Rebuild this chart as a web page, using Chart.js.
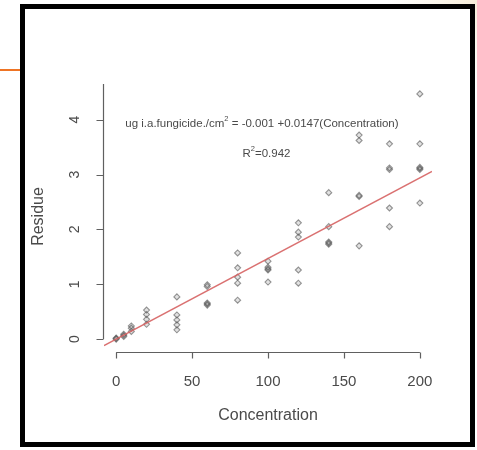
<!DOCTYPE html>
<html>
<head>
<meta charset="utf-8">
<script src="https://cdn.jsdelivr.net/npm/chart.js@4/dist/chart.umd.min.js"></script>
<style>
  html, body { margin: 0; padding: 0; }
  body {
    width: 477px; height: 450px; position: relative; overflow: hidden;
    background: radial-gradient(circle at 477px 0px, #f6ecd8 0px, #fbf6ec 40px, #ffffff 90px);
  }
  #wrap { position: absolute; left: 0; top: 0; width: 477px; height: 450px; }
  #frame {
    position: absolute; left: 20px; top: 4px; width: 455px; height: 443px;
    box-sizing: border-box; border: 5px solid #000; pointer-events: none;
  }
  #panel { position: absolute; left: 25px; top: 9px; width: 445px; height: 433px; background: #fff; }
  #accent { position: absolute; left: 0; top: 69px; width: 20px; height: 2px; background: #ee7424; }
</style>
</head>
<body>
<div id="panel"></div>
<div id="wrap"><canvas id="chart" width="477" height="450"></canvas></div>
<div id="frame"></div>
<div id="accent"></div>
<script>
// Residue measured at each fungicide concentration (paired arrays)
const concentration = [
  0, 0, 0,
  5, 5, 5,
  10, 10, 10,
  20, 20, 20, 20,
  40, 40, 40, 40, 40,
  60, 60, 60, 60, 60,
  80, 80, 80, 80, 80,
  100, 100, 100, 100, 100,
  120, 120, 120, 120, 120,
  140, 140, 140, 140, 140,
  160, 160, 160, 160, 160,
  180, 180, 180, 180, 180,
  200, 200, 200, 200, 200, 200
];
const residue = [
  0.00, 0.01, 0.02,
  0.05, 0.07, 0.09,
  0.14, 0.20, 0.24,
  0.53, 0.45, 0.36, 0.27,
  0.77, 0.44, 0.35, 0.26, 0.17,
  0.99, 0.96, 0.66, 0.64, 0.62,
  1.57, 1.30, 1.13, 1.02, 0.71,
  1.42, 1.31, 1.28, 1.26, 1.04,
  2.12, 1.95, 1.86, 1.26, 1.02,
  2.67, 2.05, 1.77, 1.75, 1.73,
  3.72, 3.62, 2.62, 2.60, 1.70,
  3.56, 3.12, 3.09, 2.39, 2.05,
  4.47, 3.56, 3.13, 3.11, 3.09, 2.48
];

// Fitted regression line
const intercept = -0.001;
const slope = 0.0147;
const rSquared = 0.942;
const fitRange = [-8, 208];

// Axis ticks
const xTicks = [0, 50, 100, 150, 200];
const yTicks = [0, 1, 2, 3, 4];

const points = concentration.map((c, i) => ({ x: c, y: residue[i] }));
const fitLine = fitRange.map(c => ({ x: c, y: intercept + slope * c }));

const textColor = '#4a4a4a';
const axisColor = '#606060';

// R-style axes: lines spanning the tick range, outward tick marks, rotated y labels, fit annotation
const rAxes = {
  id: 'rAxes',
  afterDraw(chart) {
    const { ctx } = chart;
    const xs = chart.scales.x, ys = chart.scales.y;
    ctx.save();
    ctx.strokeStyle = axisColor;
    ctx.lineWidth = 1.2;

    // x axis
    const xAxisY = 352.5;
    ctx.beginPath();
    ctx.moveTo(xs.getPixelForValue(xTicks[0]), xAxisY);
    ctx.lineTo(xs.getPixelForValue(xTicks[xTicks.length - 1]), xAxisY);
    xTicks.forEach(v => {
      const px = Math.round(xs.getPixelForValue(v)) + 0.5;
      ctx.moveTo(px, xAxisY);
      ctx.lineTo(px, xAxisY + 6);
    });
    ctx.stroke();

    // y axis
    const yAxisX = 103.5;
    ctx.beginPath();
    ctx.moveTo(yAxisX, chart.chartArea.top);
    ctx.lineTo(yAxisX, ys.getPixelForValue(yTicks[0]));
    yTicks.forEach(v => {
      const py = Math.round(ys.getPixelForValue(v)) + 0.5;
      ctx.moveTo(yAxisX, py);
      ctx.lineTo(yAxisX - 7, py);
    });
    ctx.stroke();

    // y tick labels, reading bottom to top
    ctx.fillStyle = textColor;
    ctx.font = '14px "Liberation Sans", Arial, sans-serif';
    ctx.textAlign = 'center';
    ctx.textBaseline = 'middle';
    yTicks.forEach(v => {
      ctx.save();
      ctx.translate(75, ys.getPixelForValue(v));
      ctx.rotate(-Math.PI / 2);
      ctx.fillText(String(v), 0, 0);
      ctx.restore();
    });

    // fit equation and R squared
    const cx = xs.getPixelForValue(96);
    const eqY = ys.getPixelForValue(3.92);
    const r2Y = ys.getPixelForValue(3.38);
    const base = '11.5px "Liberation Sans", Arial, sans-serif';
    const sup = '7.5px "Liberation Sans", Arial, sans-serif';
    const left1 = 'ug i.a.fungicide./cm';
    const right1 = ' = ' + intercept.toFixed(3) + ' +' + slope.toFixed(4) + '(Concentration)';
    ctx.textAlign = 'left';
    ctx.textBaseline = 'middle';
    ctx.font = base; const wL = ctx.measureText(left1).width, wR = ctx.measureText(right1).width;
    ctx.font = sup; const wS = ctx.measureText('2').width;
    let x0 = cx - (wL + wS + wR) / 2;
    ctx.font = base; ctx.fillText(left1, x0, eqY);
    ctx.font = sup; ctx.fillText('2', x0 + wL, eqY - 5);
    ctx.font = base; ctx.fillText(right1, x0 + wL + wS, eqY);

    const r2a = 'R', r2b = '=' + rSquared.toFixed(3);
    ctx.font = base; const wa = ctx.measureText(r2a).width, wb = ctx.measureText(r2b).width;
    ctx.font = sup; const ws = ctx.measureText('2').width;
    x0 = xs.getPixelForValue(99) - (wa + ws + wb) / 2;
    ctx.font = base; ctx.fillText(r2a, x0, r2Y);
    ctx.font = sup; ctx.fillText('2', x0 + wa, r2Y - 5);
    ctx.font = base; ctx.fillText(r2b, x0 + wa + ws, r2Y);
    ctx.restore();
  }
};

new Chart(document.getElementById('chart'), {
  type: 'scatter',
  data: {
    datasets: [
      {
        type: 'line',
        data: fitLine,
        borderColor: 'rgba(214, 98, 98, 0.9)',
        borderWidth: 1.4,
        pointRadius: 0,
        fill: false,
        order: 0
      },
      {
        data: points,
        pointStyle: 'rectRot',
        pointRadius: 3,
        borderColor: 'rgba(95, 95, 95, 0.65)',
        backgroundColor: 'rgba(50, 50, 50, 0.14)',
        borderWidth: 1.1,
        order: 1
      }
    ]
  },
  options: {
    responsive: false,
    animation: false,
    events: [],
    layout: { padding: { left: 0, top: 84, right: 45, bottom: 0 } },
    plugins: { legend: { display: false }, tooltip: { enabled: false } },
    scales: {
      x: {
        type: 'linear',
        min: -8, max: 208,
        afterFit: s => { s.height = 101; },
        afterBuildTicks: s => { s.ticks = xTicks.map(v => ({ value: v })); },
        grid: { display: false, drawTicks: false },
        border: { display: false },
        ticks: { color: textColor, font: { size: 15, family: '"Liberation Sans", Arial, sans-serif' }, padding: 24, maxRotation: 0 },
        title: {
          display: true, text: 'Concentration', color: textColor,
          font: { size: 16, family: '"Liberation Sans", Arial, sans-serif' },
          padding: { top: 0, bottom: 25 }
        }
      },
      y: {
        type: 'linear',
        min: -0.18, max: 4.65,
        afterFit: s => { s.width = 104; },
        afterBuildTicks: s => { s.ticks = yTicks.map(v => ({ value: v })); },
        grid: { display: false, drawTicks: false },
        border: { display: false },
        ticks: { display: false },
        title: {
          display: true, text: 'Residue', color: textColor,
          font: { size: 16, family: '"Liberation Sans", Arial, sans-serif' },
          padding: { top: 29, bottom: 0 }
        }
      }
    }
  },
  plugins: [rAxes]
});
</script>
</body>
</html>
